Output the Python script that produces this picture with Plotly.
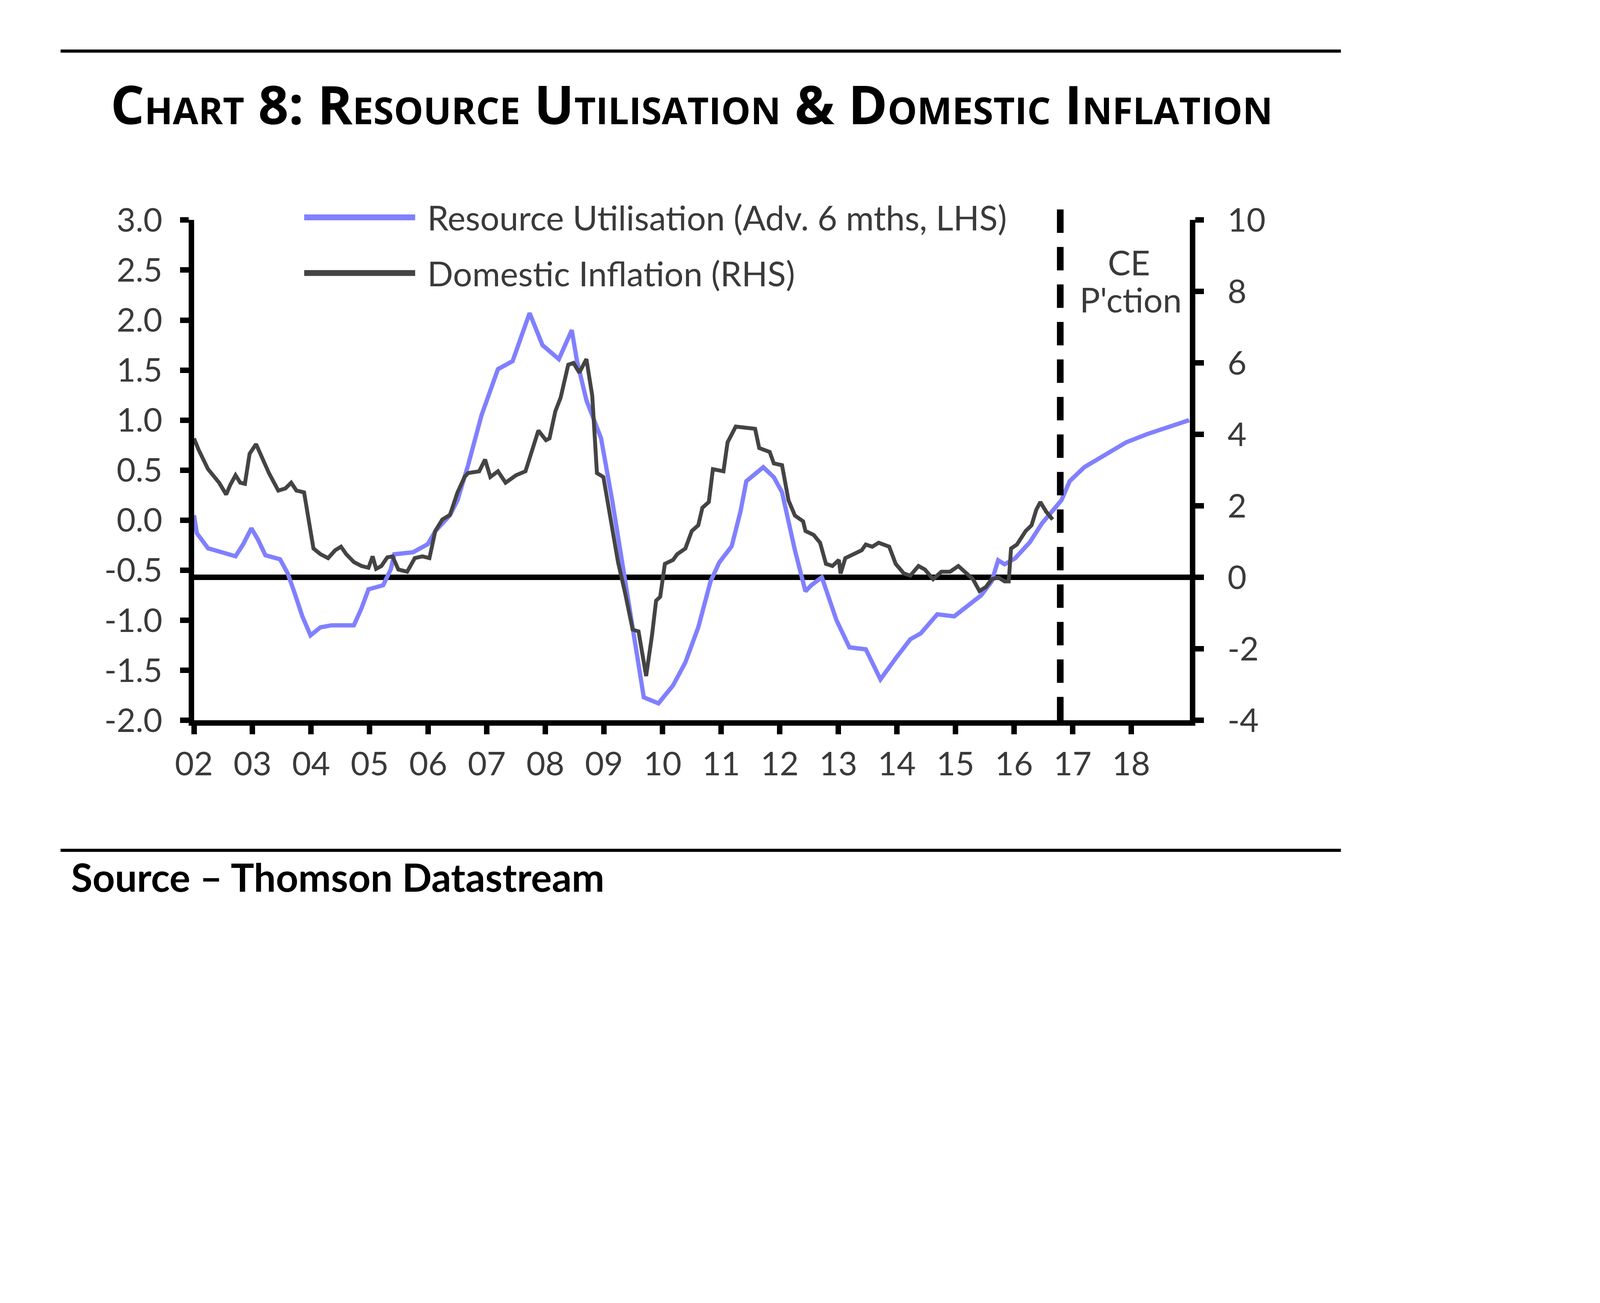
import plotly.graph_objects as go

W, H = 4872, 3336

# ---------------- data ----------------
ru_name = "Resource Utilisation (Adv. 6 mths, LHS)"
ru_years = [2002.00, 2002.05, 2002.24, 2002.46, 2002.71, 2002.84, 2002.98, 2003.09, 2003.22, 2003.47,
            2003.60, 2003.72, 2003.85, 2003.99, 2004.16, 2004.35, 2004.73, 2004.86, 2004.98, 2005.23,
            2005.36, 2005.42, 2005.74, 2005.99, 2006.12, 2006.37, 2006.50, 2006.68, 2006.91, 2007.19,
            2007.44, 2007.73, 2007.95, 2008.23, 2008.45, 2008.54, 2008.70, 2008.95, 2009.14, 2009.33,
            2009.49, 2009.68, 2009.93, 2010.18, 2010.39, 2010.61, 2010.82, 2010.97, 2011.18, 2011.33,
            2011.43, 2011.72, 2011.90, 2012.04, 2012.26, 2012.44, 2012.54, 2012.72, 2012.97, 2013.19,
            2013.47, 2013.72, 2013.98, 2014.23, 2014.41, 2014.69, 2014.98, 2015.19, 2015.44, 2015.62,
            2015.73, 2015.84, 2016.02, 2016.27, 2016.48, 2016.81, 2016.95, 2017.20, 2017.56, 2017.92,
            2018.27, 2018.63, 2018.99]
ru_values = [0.05, -0.13, -0.28, -0.32, -0.36, -0.24, -0.08, -0.19, -0.35, -0.39,
             -0.53, -0.73, -0.96, -1.15, -1.07, -1.05, -1.05, -0.88, -0.69, -0.65,
             -0.49, -0.34, -0.32, -0.24, -0.11, 0.05, 0.20, 0.55, 1.05, 1.51,
             1.59, 2.07, 1.75, 1.61, 1.90, 1.59, 1.20, 0.82, 0.20, -0.49,
             -1.07, -1.77, -1.83, -1.65, -1.42, -1.07, -0.61, -0.42, -0.26, 0.085,
             0.39, 0.53, 0.43, 0.28, -0.30, -0.71, -0.65, -0.57, -1.00, -1.27,
             -1.29, -1.59, -1.38, -1.19, -1.13, -0.94, -0.96, -0.86, -0.75, -0.61,
             -0.40, -0.44, -0.38, -0.22, -0.03, 0.20, 0.39, 0.53, 0.66, 0.78,
             0.86, 0.93, 1.00]

di_name = "Domestic Inflation (RHS)"
di_years = [2002.00, 2002.08, 2002.24, 2002.43, 2002.55, 2002.62, 2002.71, 2002.79, 2002.87, 2002.95,
            2003.06, 2003.15, 2003.28, 2003.44, 2003.56, 2003.66, 2003.75, 2003.88, 2003.97, 2004.04,
            2004.16, 2004.29, 2004.41, 2004.51, 2004.60, 2004.73, 2004.86, 2004.98, 2005.05, 2005.11,
            2005.20, 2005.30, 2005.39, 2005.49, 2005.64, 2005.77, 2005.90, 2006.02, 2006.12, 2006.24,
            2006.37, 2006.50, 2006.62, 2006.68, 2006.87, 2006.97, 2007.06, 2007.19, 2007.32, 2007.50,
            2007.66, 2007.76, 2007.88, 2008.01, 2008.07, 2008.17, 2008.26, 2008.39, 2008.48, 2008.58,
            2008.70, 2008.80, 2008.88, 2008.99, 2009.14, 2009.24, 2009.36, 2009.49, 2009.59, 2009.72,
            2009.82, 2009.89, 2009.96, 2010.04, 2010.18, 2010.25, 2010.39, 2010.50, 2010.61, 2010.68,
            2010.79, 2010.86, 2011.04, 2011.11, 2011.25, 2011.58, 2011.65, 2011.83, 2011.90, 2012.04,
            2012.15, 2012.26, 2012.40, 2012.44, 2012.58, 2012.69, 2012.79, 2012.90, 2013.01, 2013.04,
            2013.12, 2013.26, 2013.40, 2013.47, 2013.58, 2013.69, 2013.87, 2013.98, 2014.12, 2014.23,
            2014.37, 2014.48, 2014.62, 2014.76, 2014.91, 2015.05, 2015.19, 2015.30, 2015.41, 2015.52,
            2015.62, 2015.73, 2015.84, 2015.91, 2015.95, 2016.05, 2016.20, 2016.30, 2016.38, 2016.45,
            2016.55, 2016.66]
di_values = [3.89, 3.57, 3.03, 2.65, 2.32, 2.59, 2.86, 2.65, 2.62, 3.46,
             3.73, 3.41, 2.92, 2.43, 2.49, 2.65, 2.43, 2.38, 1.51, 0.81,
             0.65, 0.54, 0.76, 0.86, 0.65, 0.43, 0.32, 0.27, 0.59, 0.24,
             0.32, 0.56, 0.59, 0.22, 0.16, 0.54, 0.59, 0.54, 1.30, 1.62,
             1.75, 2.38, 2.81, 2.92, 2.97, 3.30, 2.81, 2.97, 2.65, 2.86,
             2.97, 3.46, 4.11, 3.84, 3.89, 4.65, 5.03, 5.95, 6.00, 5.73,
             6.11, 5.08, 2.92, 2.81, 1.30, 0.43, -0.43, -1.46, -1.51, -2.76,
             -1.62, -0.65, -0.54, 0.38, 0.49, 0.65, 0.81, 1.30, 1.46, 1.95,
             2.11, 3.03, 2.97, 3.78, 4.22, 4.16, 3.62, 3.51, 3.19, 3.14,
             2.16, 1.73, 1.57, 1.30, 1.19, 0.97, 0.38, 0.32, 0.49, 0.11,
             0.54, 0.65, 0.76, 0.92, 0.86, 0.97, 0.86, 0.38, 0.11, 0.05,
             0.32, 0.22, -0.05, 0.16, 0.16, 0.32, 0.11, -0.05, -0.38, -0.27,
             -0.05, 0.00, -0.11, -0.11, 0.81, 0.92, 1.30, 1.46, 1.89, 2.11,
             1.84, 1.62]

x_ticks = list(range(2002, 2019))
x_tick_labels = ["02", "03", "04", "05", "06", "07", "08", "09", "10",
                 "11", "12", "13", "14", "15", "16", "17", "18"]
lhs_ticks = [-2.0, -1.5, -1.0, -0.5, 0.0, 0.5, 1.0, 1.5, 2.0, 2.5, 3.0]
lhs_tick_labels = ["-2.0", "-1.5", "-1.0", "-0.5", "0.0", "0.5", "1.0", "1.5", "2.0", "2.5", "3.0"]
rhs_ticks = [-4, -2, 0, 2, 4, 6, 8, 10]
rhs_tick_labels = ["-4", "-2", "0", "2", "4", "6", "8", "10"]
forecast_start = 2016.79

title_text = "Chart 8: Resource Utilisation & Domestic Inflation"
source_text = "Source – Thomson Datastream"
forecast_label_1 = "CE"
forecast_label_2 = "P'ction"

# ---------------- style ----------------
BLUE = "#8080ff"
GREY = "#444444"
TXT = "#3a3a3a"
FONT = "Lato"
TICK_SIZE = 84
TEXT_SIZE = 87


def fx(p):
    return p / W


def fy(p):
    return 1 - p / H


L, R, T, B = 444, 3019, 517, 1838

fig = go.Figure()
fig.add_trace(go.Scatter(x=ru_years, y=ru_values, name=ru_name, mode="lines",
                         line=dict(color=BLUE, width=11), yaxis="y", showlegend=False))
fig.add_trace(go.Scatter(x=di_years, y=di_values, name=di_name, mode="lines",
                         line=dict(color=GREY, width=10), yaxis="y2", showlegend=False))

axis_common = dict(showgrid=False, showline=True, linecolor="black", linewidth=14,
                   ticks="outside", ticklen=22, tickwidth=14, tickcolor="black",
                   tickfont=dict(family=FONT, size=TICK_SIZE, color=TXT))

fig.update_layout(
    width=W, height=H,
    margin=dict(l=0, r=0, t=0, b=0),
    paper_bgcolor="white", plot_bgcolor="white",
    xaxis=dict(domain=[fx(L), fx(R)], range=[2002, 2019], tickvals=x_ticks,
               ticktext=x_tick_labels, zeroline=False, ticklabelstandoff=4, **axis_common),
    yaxis=dict(domain=[fy(B), fy(T)], range=[-2, 3], tickvals=lhs_ticks,
               ticktext=lhs_tick_labels, zeroline=False, ticklabelstandoff=28, **axis_common),
    yaxis2=dict(overlaying="y", side="right", range=[-4, 10], tickvals=rhs_ticks,
                ticktext=rhs_tick_labels, zeroline=True, zerolinecolor="black",
                zerolinewidth=14, ticklabelstandoff=44, **axis_common),
)

shapes = [
    # top and bottom rules
    dict(type="line", xref="paper", yref="paper", x0=fx(99), x1=fx(3410), y0=fy(71), y1=fy(71),
         line=dict(color="black", width=8)),
    dict(type="line", xref="paper", yref="paper", x0=fx(99), x1=fx(3410), y0=fy(2181), y1=fy(2181),
         line=dict(color="black", width=8)),
    # forecast divider
    dict(type="line", xref="x", yref="paper", x0=forecast_start, x1=forecast_start,
         y0=fy(B), y1=fy(480), line=dict(color="black", width=17, dash="60px,36px")),
    # legend samples
    dict(type="line", xref="paper", yref="paper", x0=fx(729), x1=fx(1016), y0=fy(510), y1=fy(510),
         line=dict(color=BLUE, width=15)),
    dict(type="line", xref="paper", yref="paper", x0=fx(729), x1=fx(1016), y0=fy(657), y1=fy(657),
         line=dict(color=GREY, width=15)),
]
fig.update_layout(shapes=shapes)

annotations = [
    dict(text=title_text, xref="paper", yref="paper", x=fx(226), y=fy(210), xanchor="left",
         yanchor="middle", showarrow=False,
         font=dict(family="Open Sans", size=136, color="black", weight="bold",
                   variant="small-caps")),
    dict(text=source_text, xref="paper", yref="paper", x=fx(124), y=fy(2250), xanchor="left",
         yanchor="middle", showarrow=False,
         font=dict(family=FONT, size=100, color="black", weight="bold")),
    dict(text=ru_name, xref="paper", yref="paper", x=fx(1046), y=fy(510), xanchor="left",
         yanchor="middle", showarrow=False, font=dict(family=FONT, size=TEXT_SIZE, color=TXT)),
    dict(text=di_name, xref="paper", yref="paper", x=fx(1046), y=fy(657), xanchor="left",
         yanchor="middle", showarrow=False, font=dict(family=FONT, size=TEXT_SIZE, color=TXT)),
    dict(text=forecast_label_1, xref="paper", yref="paper", x=fx(2862), y=fy(629),
         xanchor="center", yanchor="middle", showarrow=False,
         font=dict(family=FONT, size=TEXT_SIZE, color=TXT)),
    dict(text=forecast_label_2, xref="paper", yref="paper", x=fx(2866), y=fy(726),
         xanchor="center", yanchor="middle", showarrow=False,
         font=dict(family=FONT, size=TEXT_SIZE, color=TXT)),
]
fig.update_layout(annotations=annotations)

fig.write_html("out.html")
